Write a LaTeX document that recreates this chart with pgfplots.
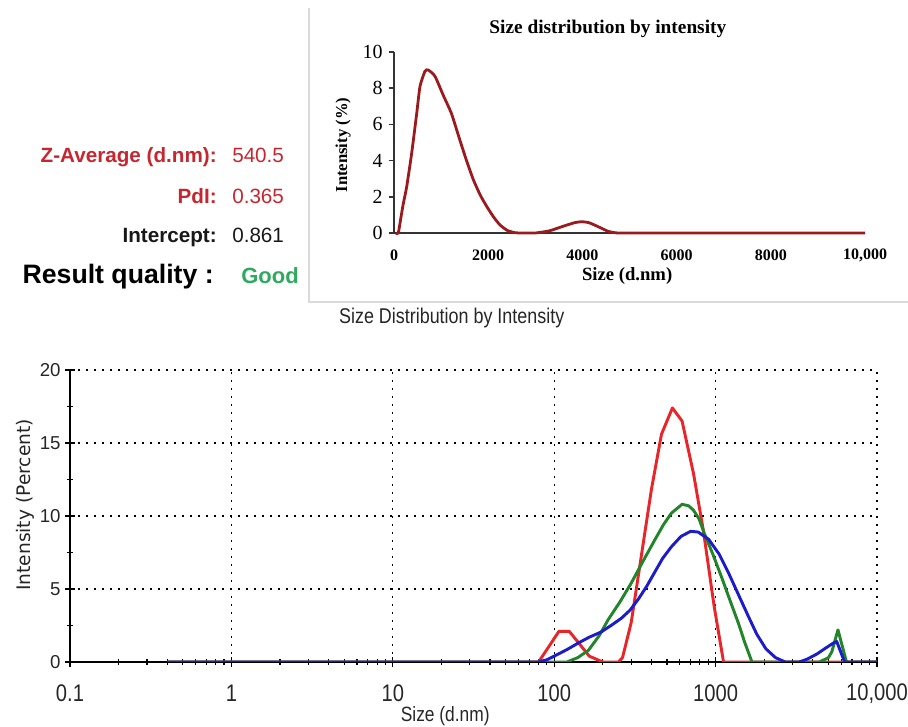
\documentclass[border=0pt]{standalone}
\usepackage{fontspec}
\setmainfont{Liberation Sans}
\newfontfamily\narrowsans[FakeStretch=0.84]{Liberation Sans}
\newfontfamily\timesfont{Liberation Serif}
\newfontfamily\dvsans{DejaVu Sans}
\usepackage{pgfplots}
\pgfplotsset{compat=1.18}

\definecolor{zred}{HTML}{C62630}
\definecolor{goodgreen}{HTML}{2EAA5F}
\definecolor{curvered}{HTML}{9A1B1E}
\definecolor{sred}{HTML}{E8262A}
\definecolor{sgreen}{HTML}{22852A}
\definecolor{sblue}{HTML}{1C1CC8}
\definecolor{framegray}{HTML}{DADADA}

\begin{document}
\begin{tikzpicture}[x=0.75pt,y=0.75pt]
\path[use as bounding box] (0,0) rectangle (908,727);

% summary of the measurement
\node[anchor=base east, inner sep=0, text=zred, font=\bfseries\fontsize{15.5}{18}\selectfont] at (217,564) {Z-Average (d.nm):};
\node[anchor=base west, inner sep=0, text=zred, font=\fontsize{15.5}{18}\selectfont] at (232,564) {540.5};
\node[anchor=base east, inner sep=0, text=zred, font=\bfseries\fontsize{15.5}{18}\selectfont] at (217,523) {PdI:};
\node[anchor=base west, inner sep=0, text=zred, font=\fontsize{15.5}{18}\selectfont] at (232,523) {0.365};
\node[anchor=base east, inner sep=0, text=black!90, font=\bfseries\fontsize{15.5}{18}\selectfont] at (217,484) {Intercept:};
\node[anchor=base west, inner sep=0, text=black!90, font=\fontsize{15.5}{18}\selectfont] at (232,484) {0.861};
\node[anchor=base east, inner sep=0, text=black, font=\bfseries\fontsize{20}{23}\selectfont] at (214,443) {Result quality :};
\node[anchor=base west, inner sep=0, text=goodgreen, font=\bfseries\fontsize{16.5}{19}\selectfont] at (241,443) {Good};

% frame around the inset
\draw[framegray, line width=1.5pt] (309,719) -- (309,425) -- (908,425);

% inset: linear size axis
\begin{axis}[
  at={(295.5pt,370.5pt)}, anchor=south west,
  scale only axis, width=353.25pt, height=135.75pt,
  xmin=0, xmax=10000, ymin=0, ymax=10,
  axis lines=left,
  axis line style={-, line width=1.3pt, black!80},
  clip=false,
  /pgf/number format/assume math mode=true,
  xtick={0,2000,4000,6000,8000,10000},
  xticklabels={0,2000,4000,6000,8000,{10,000}},
  scaled x ticks=false,
  x tick style={draw=none},
  ytick={0,2,...,10},
  y tick style={line width=1.1pt, black!80},
  tick align=outside, major tick length=4pt,
  x tick label style={font=\timesfont\bfseries\fontsize{12}{14}\selectfont, anchor=center, yshift=-12.5pt},
  y tick label style={font=\timesfont\fontsize{15}{17}\selectfont, anchor=east, xshift=-1pt},
  xlabel={Size (d.nm)},
  ylabel={Intensity (\%)},
  xlabel style={font=\timesfont\bfseries\fontsize{14}{16}\selectfont, at={(axis description cs:0.495,-0.238)}, anchor=center},
  ylabel style={font=\timesfont\bfseries\fontsize{12.5}{14}\selectfont, at={(axis description cs:-0.108,0.486)}, anchor=center},
  title={Size distribution by intensity},
  title style={font=\timesfont\bfseries\fontsize{14.5}{16}\selectfont, at={(axis description cs:0.454,1.083)}, anchor=center},
]
\addplot[curvered, line width=2.1pt, smooth, tension=0.35] coordinates {
  (40,0) (91,0) (150,0.9) (198,1.63) (269,2.55) (375,4.4) (482,6.6) (552,8.1)
  (658,8.94) (729,9.0) (870,8.66) (1047,7.6) (1220,6.6) (1395,5.16) (1540,4.0)
  (1684,2.95) (1830,2.1) (1968,1.47) (2110,0.9) (2245,0.46) (2400,0.15) (2560,0.02)
  (2700,0) (3000,0) (3300,0.12) (3600,0.38) (3850,0.58) (4000,0.62) (4150,0.56)
  (4350,0.33) (4550,0.09) (4750,0) (5200,0) (10000,0)
};
\end{axis}

% main plot: logarithmic size axis
\begin{axis}[
  at={(52.5pt,48.75pt)}, anchor=south west,
  scale only axis, width=605.25pt, height=219pt,
  xmode=log, log basis x=10,
  xmin=0.1, xmax=10000, ymin=0, ymax=20,
  axis lines=left,
  axis line style={-, line width=0.8pt, black},
  /pgf/number format/assume math mode=true,
  xtick={0.1,1,10,100,1000,10000},
  xticklabels={0.1,1,10,100,1000,{10,000}},
  minor xtick={0.2,0.3,0.4,0.5,0.6,0.7,0.8,0.9,2,3,4,5,6,7,8,9,
               20,30,40,50,60,70,80,90,200,300,400,500,600,700,800,900,
               2000,3000,4000,5000,6000,7000,8000,9000},
  ytick={0,5,10,15,20},
  minor ytick={2.5,7.5,12.5,17.5},
  grid=major,
  major grid style={black, line width=0.9pt, dash pattern=on 1.5pt off 4.5pt},
  tick align=center, major tick length=7pt, minor tick length=4.5pt,
  tick style={black, line width=0.8pt},
  x tick label style={font=\narrowsans\fontsize{18}{20}\selectfont, text=black!85, anchor=center, yshift=-20pt},
  y tick label style={font=\fontsize{14}{16}\selectfont, text=black!85, anchor=east},
  xlabel={Size (d.nm)},
  ylabel={Intensity (Percent)},
  xlabel style={font=\narrowsans\fontsize{15.5}{18}\selectfont, text=black!85, at={(axis description cs:0.465,-0.185)}, anchor=center},
  ylabel style={font=\dvsans\fontsize{14}{16}\selectfont, text=black!85, at={(axis description cs:-0.0558,0.538)}, anchor=center},
  title={Size Distribution by Intensity},
  title style={font=\narrowsans\fontsize{16}{18}\selectfont, text=black!85, at={(axis description cs:0.473,1.151)}, anchor=center},
]
\addplot[sred, line width=2.2pt, line join=round] coordinates {
  (0.4,0) (80,0) (107,2.1) (124,2.1) (165,0.4) (200,0) (250,0) (265,0.3)
  (300,2.7) (400,11.8) (462,15.6) (540,17.4) (620,16.5) (730,12.9) (840,9.0)
  (980,3.8) (1120,0) (10000,0)
};
\addplot[sgreen, line width=2.2pt, line join=round] coordinates {
  (0.4,0) (120,0) (140,0.3) (163,0.8) (190,1.8) (216,2.9) (255,4.1) (300,5.4)
  (355,6.9) (417,8.3) (475,9.4) (533,10.2) (620,10.8) (680,10.7) (729,10.4)
  (790,9.8) (852,8.8) (960,7.4) (1090,5.8) (1230,4.2) (1380,2.7) (1520,1.3)
  (1680,0) (4400,0) (5000,0.3) (5250,0.7) (5730,2.2) (6470,0) (10000,0)
};
\addplot[sblue, line width=2.2pt, line join=round] coordinates {
  (0.4,0) (80,0) (90,0.15) (100,0.4) (120,0.85) (141,1.3) (165,1.7) (195,2.05)
  (225,2.5) (261,3.0) (295,3.55) (332,4.3) (375,5.2) (417,6.1) (470,7.1)
  (533,7.9) (610,8.6) (700,8.95) (780,8.9) (906,8.4) (1050,7.4) (1203,6.1)
  (1400,4.5) (1600,3.1) (1800,1.9) (2050,0.9) (2350,0.3) (2700,0) (3300,0)
  (3700,0.2) (4250,0.55) (4800,0.95) (5370,1.3) (5630,1.4) (6300,0) (10000,0)
};
\end{axis}
\end{tikzpicture}
\end{document}
